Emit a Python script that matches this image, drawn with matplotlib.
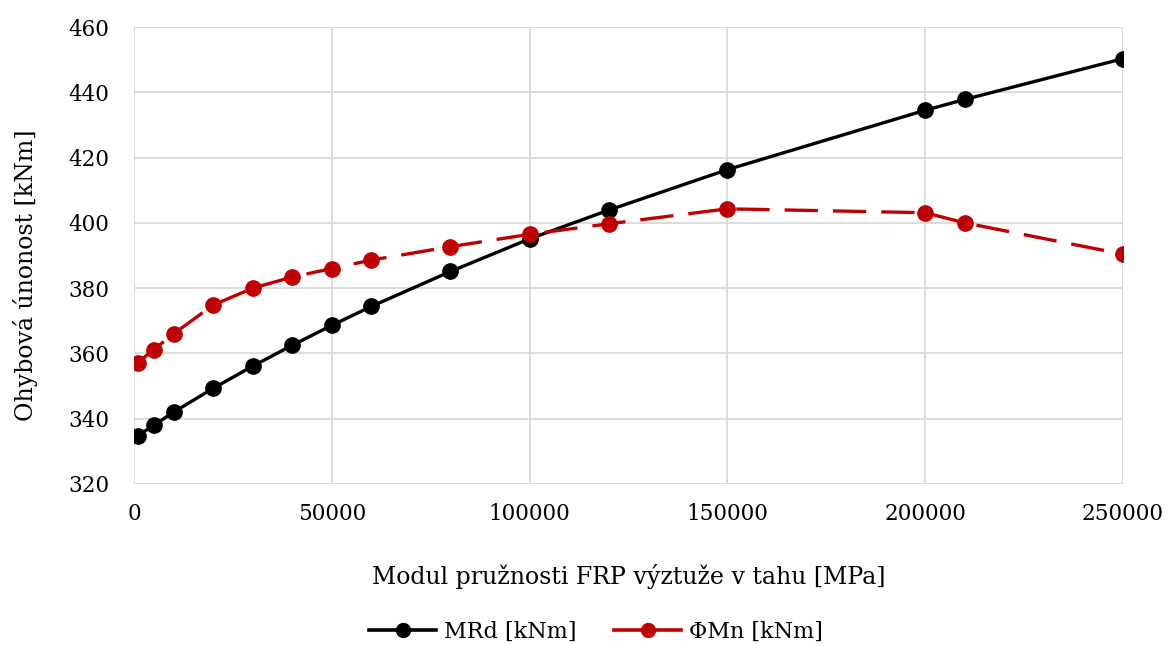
import matplotlib.pyplot as plt
from matplotlib.lines import Line2D

# Modul pruznosti FRP [MPa]
modul = [1000, 5000, 10000, 20000, 30000, 40000, 50000, 60000, 80000,
         100000, 120000, 150000, 200000, 210000, 250000]
mrd = [334.8, 338.0, 342.0, 349.3, 356.1, 362.5, 368.6, 374.4, 385.1,
       395.1, 403.9, 416.3, 434.5, 437.8, 450.3]
phi_mn = [357.2, 361.2, 366.0, 374.8, 380.0, 383.4, 386.0, 388.6, 392.7,
          396.5, 399.7, 404.3, 403.1, 400.0, 390.4]

xticks = [0, 50000, 100000, 150000, 200000, 250000]
yticks = [320, 340, 360, 380, 400, 420, 440, 460]

serif = ['DejaVu Serif']

fig = plt.figure(figsize=(11.68, 6.46), dpi=100)
ax = fig.add_axes([134 / 1168, 1 - 484 / 646, 989 / 1168, 457 / 646])

red = '#C00000'
ax.plot(modul, mrd, color='black', lw=2.4, marker='o', markersize=11, zorder=3)
ax.plot(modul, phi_mn, color=red, lw=2.4, marker='o', markersize=11,
        dashes=(10, 4.5), zorder=3)

ax.set_xlim(0, 250000)
ax.set_ylim(320, 460)
ax.set_xticks(xticks)
ax.set_yticks(yticks)
ax.grid(True, color='#d9d9d9', lw=1.3)
ax.set_axisbelow(True)
for s in ax.spines.values():
    s.set_visible(False)
ax.tick_params(length=0, labelsize=15.5)
ax.tick_params(axis='y', pad=18)
ax.tick_params(axis='x', pad=14)
for lab in ax.get_xticklabels() + ax.get_yticklabels():
    lab.set_family(serif)

ax.set_xlabel('Modul pružnosti FRP výztuže v tahu [MPa]', fontsize=17,
              family=serif, labelpad=28)
ax.set_ylabel('Ohybová únonost [kNm]', fontsize=17, family=serif)
ax.yaxis.set_label_coords(-0.097, 0.457)

handles = [
    Line2D([], [], color='black', lw=2.6, marker='o', markersize=10),
    Line2D([], [], color=red, lw=2.6, marker='o', markersize=10),
]
fig.legend(handles, ['MRd [kNm]', 'ΦMn [kNm]'], loc='center',
           bbox_to_anchor=(596 / 1168, 1 - 632 / 646), ncol=2, frameon=False,
           prop={'family': serif, 'size': 16}, handlelength=3.0,
           handletextpad=0.35, columnspacing=1.7)

fig.savefig('out.png', dpi=100)
